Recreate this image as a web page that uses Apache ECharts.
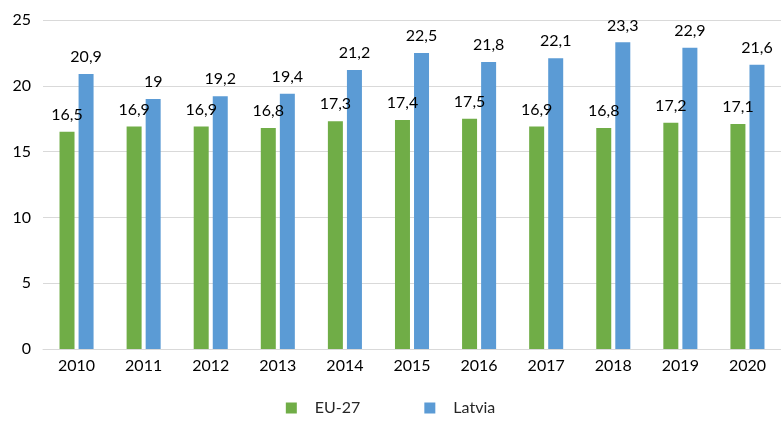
<!DOCTYPE html>
<html><head><meta charset="utf-8">
<script src="https://cdn.jsdelivr.net/npm/echarts@6/dist/echarts.min.js"></script>
<style>html,body{margin:0;padding:0;background:#fff}#c{width:781px;height:421px}</style>
</head><body><div id="c"></div>
<script>
const categories = ['2010','2011','2012','2013','2014','2015','2016','2017','2018','2019','2020'];
const eu27 = [16.5,16.9,16.9,16.8,17.3,17.4,17.5,16.9,16.8,17.2,17.1];
const latvia = [20.9,19,19.2,19.4,21.2,22.5,21.8,22.1,23.3,22.9,21.6];
const yTicks = [0,5,10,15,20,25];

const font = 'Lato, "DejaVu Sans", sans-serif';
const fmt = p => String(p.value).replace('.', ',');
const chart = echarts.init(document.getElementById('c'));
chart.setOption({
  animation: false,
  textStyle: {fontFamily: font},
  grid: {left: 43, right: -2, top: 20, bottom: 72},
  legend: {
    bottom: 0, left: 'center', itemWidth: 11, itemHeight: 11, itemGap: 64,
    icon: 'rect',
    textStyle: {fontSize: 16, color: '#262626', fontFamily: font, padding: [0,0,0,13]},
    data: ['EU-27','Latvia']
  },
  xAxis: {
    type: 'category', data: categories,
    axisLine: {lineStyle: {color: '#d9d9d9', width: 1}},
    axisTick: {show: false},
    axisLabel: {fontSize: 16, color: '#000', margin: 9, fontFamily: font}
  },
  yAxis: {
    type: 'value', min: yTicks[0], max: yTicks[yTicks.length-1], interval: 5,
    axisLine: {show: false}, axisTick: {show: false},
    splitLine: {lineStyle: {color: '#d9d9d9', width: 1}},
    axisLabel: {fontSize: 16, color: '#000', margin: 12, fontFamily: font}
  },
  series: [
    {name: 'EU-27', type: 'bar', data: eu27, barWidth: 15, barGap: '27%',
     itemStyle: {color: '#70AD47'},
     label: {show: true, position: 'top', distance: 9, fontSize: 16, color: '#000', formatter: fmt, fontFamily: font}},
    {name: 'Latvia', type: 'bar', data: latvia, barWidth: 15,
     itemStyle: {color: '#5B9BD5'},
     label: {show: true, position: 'top', distance: 9, fontSize: 16, color: '#000', formatter: fmt, fontFamily: font}}
  ]
});
</script></body></html>
